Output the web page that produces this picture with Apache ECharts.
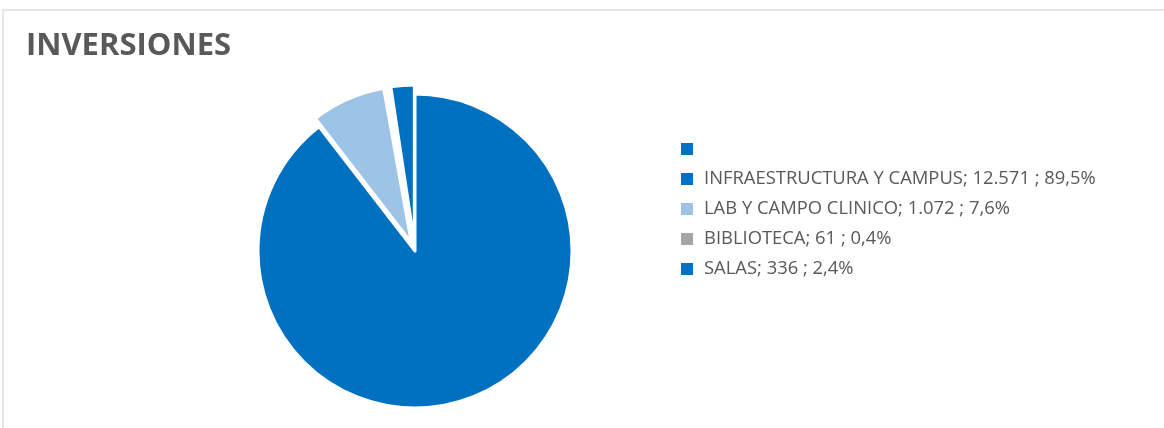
<!DOCTYPE html>
<html>
<head>
<meta charset="utf-8">
<style>
html,body{margin:0;padding:0;background:#fff;}
#chart{width:1164px;height:428px;}
</style>
<script src="https://cdn.jsdelivr.net/npm/echarts@6/dist/echarts.min.js"></script>
</head>
<body>
<div id="chart"></div>
<script>
const titleText = 'INVERSIONES';
const categories = [' ', 'INFRAESTRUCTURA Y CAMPUS', 'LAB Y CAMPO CLINICO', 'BIBLIOTECA', 'SALAS'];
const values = [0, 12571, 1072, 61, 336];
const colors = ['#0070C0', '#0070C0', '#9DC3E6', '#A5A5A5', '#0070C0'];
const exploded = [false, false, true, true, true];

const total = values.reduce((a, b) => a + b, 0);
function fmtThousands(v) {
  return String(v).replace(/\B(?=(\d{3})+(?!\d))/g, '.');
}
function fmtPct(v) {
  return (v / total * 100).toFixed(1).replace('.', ',') + '%';
}
const labelMap = {};
categories.forEach((c, i) => {
  labelMap[c] = values[i] === 0 ? ' ' : c + '; ' + fmtThousands(values[i]) + ' ; ' + fmtPct(values[i]);
});

const chart = echarts.init(document.getElementById('chart'), null, {renderer: 'canvas'});
chart.setOption({
  animation: false,
  backgroundColor: '#fff',
  title: {
    text: titleText,
    left: 21,
    top: 26,
    textStyle: {fontFamily: 'Open Sans', fontWeight: 'bold', fontSize: 31, color: '#595959'}
  },
  graphic: [{
    type: 'rect',
    shape: {x: 3, y: 10, width: 1300, height: 600},
    style: {fill: 'none', stroke: '#E6E6E6', lineWidth: 2},
    silent: true
  }],
  legend: {
    orient: 'vertical',
    left: 676,
    top: 134,
    itemWidth: 12,
    itemHeight: 12,
    itemGap: 10,
    icon: 'rect',
    selectedMode: false,
    data: categories,
    itemStyle: {borderWidth: 0},
    formatter: function (name) { return labelMap[name]; },
    textStyle: {fontFamily: 'Open Sans', fontSize: 18.4, color: '#595959', lineHeight: 20, padding: [0, 0, 0, 6]}
  },
  series: [{
    type: 'pie',
    center: [415, 251],
    radius: 157,
    startAngle: 90,
    clockwise: true,
    selectedMode: 'multiple',
    selectedOffset: 9,
    label: {show: false},
    labelLine: {show: false},
    emphasis: {disabled: true},
    itemStyle: {borderColor: '#fff', borderWidth: 3},
    data: categories.map((c, i) => ({
      name: c,
      value: values[i],
      selected: exploded[i],
      itemStyle: {color: colors[i], borderWidth: values[i] === 0 ? 0 : (values[i] / total < 0.01 ? 5 : 3)}
    }))
  }]
});
</script>
</body>
</html>
